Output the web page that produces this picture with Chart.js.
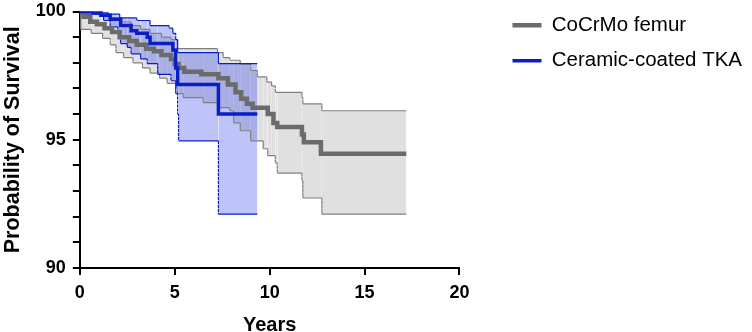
<!DOCTYPE html>
<html>
<head>
<meta charset="utf-8">
<script src="https://cdn.jsdelivr.net/npm/chart.js@4.4.0/dist/chart.umd.min.js"></script>
<style>
  html, body { margin: 0; padding: 0; background: #fff; }
</style>
</head>
<body>
<canvas id="myChart" width="752" height="332"></canvas>
<script>
// Kaplan-Meier curves: step times (years) and survival (%) after each step

const cocrEnd = 17.2;
const cocrTimes = [0, 0.2, 0.55, 0.9, 1.3, 1.7, 2.1, 2.6, 3.0, 3.5, 3.9, 4.3, 4.8, 5.0, 5.2, 5.5, 6.4, 7.3, 7.8, 8.2, 8.5, 8.8, 9.1, 9.9, 10.2, 10.4, 11.7, 11.8, 12.7];
const cocrSurv  = [100, 99.8, 99.6, 99.5, 99.35, 99.2, 99.0, 98.85, 98.7, 98.55, 98.45, 98.3, 98.15, 97.95, 97.8, 97.65, 97.55, 97.4, 97.15, 96.85, 96.6, 96.4, 96.25, 96.0, 95.65, 95.5, 95.2, 94.9, 94.45];

const cocrUpTimes = [0, 0.7, 1.5, 2.2, 2.7, 3.2, 3.7, 4.3, 4.8, 5.15, 7.25, 7.55, 7.9, 8.45, 9.0, 9.35, 9.85, 10.1, 10.3, 11.7, 11.75, 12.75];
const cocrUp      = [100, 99.9, 99.75, 99.6, 99.45, 99.3, 99.15, 99.0, 98.9, 98.55, 98.4, 98.2, 98.1, 97.95, 97.7, 97.45, 97.25, 97.1, 96.85, 96.65, 96.4, 96.13];

const cocrLoTimes = [0, 0.05, 0.6, 1.2, 1.6, 1.9, 2.3, 2.8, 3.3, 3.7, 4.2, 4.6, 5.05, 5.15, 5.45, 6.5, 7.25, 7.9, 8.1, 8.45, 9.0, 9.66, 9.9, 10.3, 10.4, 11.7, 11.75, 12.75];
const cocrLo      = [100, 99.3, 99.15, 98.95, 98.7, 98.4, 98.2, 98.0, 97.8, 97.6, 97.4, 97.2, 97.05, 96.8, 96.64, 96.45, 96.25, 96.13, 95.66, 95.35, 94.96, 94.65, 94.38, 94.1, 93.7, 93.4, 92.73, 92.1];

const tkaEnd = 9.35;
const tkaTimes = [0, 0.7, 1.1, 1.6, 2.15, 2.7, 3.0, 3.55, 3.7, 4.9, 5.05, 5.15, 7.3];
const tkaSurv  = [100, 99.95, 99.85, 99.7, 99.45, 99.25, 99.15, 99.0, 98.75, 98.5, 97.8, 97.15, 96.0];

const tkaUpTimes = [0, 1.2, 1.5, 2.1, 3.0, 3.7, 4.7, 4.9, 5.05, 5.15, 7.3];
const tkaUp      = [100, 99.95, 99.9, 99.75, 99.65, 99.45, 99.35, 99.15, 98.9, 98.4, 97.97];

const tkaLoTimes = [0, 0.1, 1.25, 1.6, 2.0, 2.15, 2.5, 2.7, 3.2, 3.55, 4.1, 4.8, 5.05, 5.15, 5.2, 7.3];
const tkaLo      = [100, 99.9, 99.65, 99.4, 99.15, 98.75, 98.6, 98.35, 98.15, 97.97, 97.55, 97.3, 96.8, 96.0, 94.96, 92.1];

const seriesNames = ["CoCrMo femur", "Ceramic-coated TKA"];
const yTicks = [90, 95, 100];
const xTicks = [0, 5, 10, 15, 20];

// turn step data into explicit corner points so vertical parts can be styled
function steps(times, surv, end) {
    const pts = [];
    for (let i = 0; i < times.length; i++) {
        if (i > 0) pts.push({x: times[i], y: surv[i - 1]});
        pts.push({x: times[i], y: surv[i]});
    }
    pts.push({x: end, y: surv[surv.length - 1]});
    return pts;
}

const FONT = "'Liberation Sans', Arial, Helvetica, sans-serif";
const GREY = "#6b6b6b";
const GREY_CI = "#808080";
const BLUE = "#0a1ec8";

// dashed vertical parts on the confidence bands
const ciSegment = {
    borderDash: c => c.p0.parsed.x === c.p1.parsed.x ? [2, 2] : []
};

const ciLine = {
    pointRadius: 0,
    borderWidth: 1.2,
    segment: ciSegment
};

const data = {
    datasets: [{
        ...ciLine,
        label: "cocr upper",
        data: steps(cocrUpTimes, cocrUp, cocrEnd),
        borderColor: GREY_CI,
        fill: false,
        order: 5
    }, {
        ...ciLine,
        label: "cocr lower",
        data: steps(cocrLoTimes, cocrLo, cocrEnd),
        borderColor: GREY_CI,
        backgroundColor: "rgb(224,224,224)",
        fill: "-1",
        order: 5
    }, {
        ...ciLine,
        label: "tka upper",
        data: steps(tkaUpTimes, tkaUp, tkaEnd),
        borderColor: BLUE,
        fill: false,
        order: 3
    }, {
        ...ciLine,
        label: "tka lower",
        data: steps(tkaLoTimes, tkaLo, tkaEnd),
        borderColor: BLUE,
        backgroundColor: "rgba(40,55,240,0.30)",
        fill: "-1",
        order: 3
    }, {
        label: seriesNames[0],
        data: steps(cocrTimes, cocrSurv, cocrEnd),
        borderColor: GREY,
        backgroundColor: GREY,
        borderWidth: 4.5,
        pointRadius: 0,
        fill: false,
        order: 1
    }, {
        label: seriesNames[1],
        data: steps(tkaTimes, tkaSurv, tkaEnd),
        borderColor: BLUE,
        backgroundColor: BLUE,
        borderWidth: 3.5,
        pointRadius: 0,
        fill: false,
        order: 0
    }]
};

const axisGrid = {
    drawOnChartArea: false,
    drawTicks: true,
    tickLength: 7,
    color: "#000",
    lineWidth: 2
};

const config = {
    type: "line",
    data: data,
    options: {
        responsive: false,
        animation: false,
        devicePixelRatio: 1,
        layout: { padding: 0 },
        plugins: {
            filler: { drawTime: "beforeDatasetsDraw" },
            tooltip: { enabled: false },
            legend: {
                position: "right",
                align: "start",
                maxWidth: 400,
                labels: {
                    filter: item => item.datasetIndex >= 4,
                    sort: (a, b) => a.datasetIndex - b.datasetIndex,
                    usePointStyle: true,
                    pointStyle: "line",
                    pointStyleWidth: 29,
                    padding: 15,
                    color: "#000",
                    font: { family: FONT, size: 20.5, lineHeight: 0.88 }
                }
            }
        },
        scales: {
            x: {
                type: "linear",
                min: 0,
                max: 20,
                afterBuildTicks: axis => { axis.ticks = xTicks.map(v => ({value: v})); },
                ticks: { color: "#000", font: { family: FONT, size: 18, weight: "bold", lineHeight: 1.0 }, padding: 9, maxRotation: 0 },
                grid: axisGrid,
                border: { color: "#000", width: 2 },
                title: { display: true, text: "Years", color: "#000", font: { family: FONT, size: 20, weight: "bold", lineHeight: 0.7 }, padding: { top: 7, bottom: 0 } }
            },
            y: {
                type: "linear",
                min: 90,
                max: 100,
                ticks: {
                    stepSize: 1,
                    autoSkip: false,
                    color: "#000",
                    font: { family: FONT, size: 18, weight: "bold", lineHeight: 0.5 },
                    padding: 7,
                    callback: v => yTicks.includes(v) ? v : ""
                },
                grid: axisGrid,
                border: { color: "#000", width: 2 },
                title: { display: true, text: "Probability of Survival", color: "#000", font: { family: FONT, size: 21.5, weight: "bold" }, padding: { top: 0, bottom: 3 } }
            },
            // empty spacer between plot and legend
            gap: {
                type: "linear",
                position: "right",
                display: true,
                grid: { display: false },
                border: { display: false },
                ticks: { display: false },
                afterFit: s => { s.width = 38; }
            }
        }
    }
};

const ctx = document.querySelector("#myChart");
let myChart = new Chart(ctx, config);
</script>
</body>
</html>
